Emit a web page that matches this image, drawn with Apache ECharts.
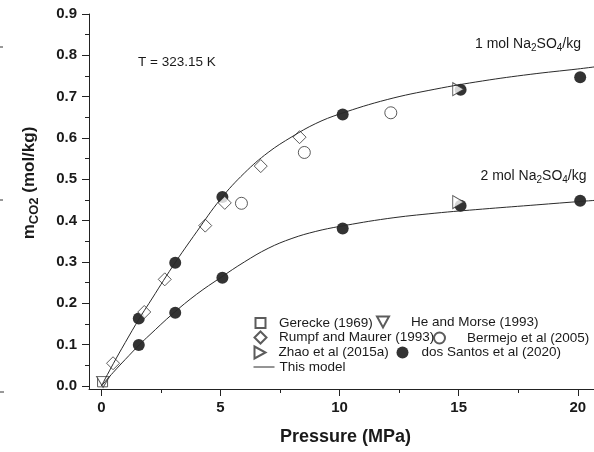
<!DOCTYPE html>
<html>
<head>
<meta charset="utf-8">
<script src="https://cdn.jsdelivr.net/npm/echarts@6/dist/echarts.min.js"></script>
<style>
  html, body { margin: 0; padding: 0; background: #fff; }
  #chart { width: 594px; height: 452px; }
</style>
</head>
<body>
<div id="chart"></div>
<script>
// ---- axis ticks ----
const xMajorTicks = [0, 5, 10, 15, 20];
const xMinorTicks = [2.5, 7.5, 12.5, 17.5];
const yMajorTicks = [0, 0.1, 0.2, 0.3, 0.4, 0.5, 0.6, 0.7, 0.8, 0.9];
const yMinorTicks = [0.05, 0.15, 0.25, 0.35, 0.45, 0.55, 0.65, 0.75, 0.85];

// ---- experimental CO2 solubility, pressure (MPa) / molality (mol/kg) ----
const gereckeP = [0.05];
const gereckeM = [0.010];

const heMorseP = [0.07];
const heMorseM = [0.010];

const rumpfP = [0.49, 1.80, 2.66, 4.36, 5.18, 6.69, 8.32];
const rumpfM = [0.055, 0.179, 0.258, 0.388, 0.443, 0.532, 0.602];

const bermejoP = [5.88, 8.52, 12.15];
const bermejoM = [0.442, 0.565, 0.661];

const zhaoP = [14.98, 14.98];
const zhaoM = [0.718, 0.445];

const santosP = [1.57, 3.10, 5.08, 10.13, 15.08, 20.10, 1.57, 3.10, 5.08, 10.13, 15.08, 20.10];
const santosM = [0.163, 0.298, 0.457, 0.657, 0.717, 0.747, 0.099, 0.177, 0.262, 0.381, 0.436, 0.448];

// ---- model curves ----
const modelP = [0, 0.5, 1, 1.6, 2, 3, 4, 5, 6, 7, 8, 9, 10, 12, 14, 16, 18, 20, 20.7];
const model1M = [0, 0.054, 0.105, 0.164, 0.200, 0.290, 0.373, 0.452, 0.515, 0.565, 0.603, 0.635, 0.658, 0.693, 0.718, 0.738, 0.754, 0.767, 0.772];
const model2M = [0, 0.033, 0.064, 0.100, 0.122, 0.175, 0.222, 0.262, 0.300, 0.333, 0.357, 0.374, 0.386, 0.405, 0.418, 0.428, 0.437, 0.446, 0.449];

const FONT = '"Liberation Sans", Arial, Helvetica, sans-serif';
const INK = '#1a1a1a';
const pairs = (xs, ys) => xs.map((x, i) => [x, ys[i]]);

const hollow = { color: '#fff', borderColor: '#333', borderWidth: 1 };
const modelLine = { color: '#2a2a2a', width: 1 };

const series = [
  { name: 'dos Santos et al (2020)', type: 'scatter', z: 2, symbol: 'circle', symbolSize: 12,
    itemStyle: { color: '#000' }, data: pairs(santosP, santosM) },
  { name: 'Gerecke (1969)', type: 'scatter', z: 3, symbol: 'rect', symbolSize: 10,
    itemStyle: hollow, data: pairs(gereckeP, gereckeM) },
  { name: 'He and Morse (1993)', type: 'scatter', z: 3, symbol: 'triangle', symbolRotate: 180, symbolSize: [13, 11],
    itemStyle: hollow, data: pairs(heMorseP, heMorseM) },
  { name: 'Rumpf and Maurer (1993)', type: 'scatter', z: 3, symbol: 'diamond', symbolSize: 13,
    itemStyle: hollow, data: pairs(rumpfP, rumpfM) },
  { name: 'Bermejo et al (2005)', type: 'scatter', z: 3, symbol: 'circle', symbolSize: 12,
    itemStyle: hollow, data: pairs(bermejoP, bermejoM) },
  { name: 'Zhao et al (2015a)', type: 'scatter', z: 3, symbol: 'triangle', symbolRotate: -90, symbolSize: [13, 11],
    itemStyle: hollow, data: pairs(zhaoP, zhaoM) },
  { name: 'This model', type: 'line', z: 4, symbol: 'none', smooth: 0.4,
    lineStyle: modelLine, itemStyle: { color: '#2a2a2a' }, data: pairs(modelP, model1M) },
  { name: 'This model', type: 'line', z: 4, symbol: 'none', smooth: 0.4,
    lineStyle: modelLine, itemStyle: { color: '#2a2a2a' }, data: pairs(modelP, model2M) }
];

// legend entries: icon centre, row centre, text start, icon size, icon shape
const legendItems = [
  { name: 'Gerecke (1969)',          cx: 259.5, cy: 321,   tx: 278,   size: 10, icon: 'rect' },
  { name: 'He and Morse (1993)',     cx: 382,   cy: 321,   tx: 410,   size: 12, icon: 'path://M0,0L12,0L6,11Z' },
  { name: 'Rumpf and Maurer (1993)', cx: 259.5, cy: 336.5, tx: 278,   size: 12, icon: 'diamond' },
  { name: 'Bermejo et al (2005)',    cx: 438.5, cy: 336.5, tx: 466,   size: 11, icon: 'circle' },
  { name: 'Zhao et al (2015a)',      cx: 259.5, cy: 351.5, tx: 278,   size: 12, icon: 'path://M0,0L11,6L0,12Z' },
  { name: 'dos Santos et al (2020)', cx: 402.5, cy: 351.5, tx: 421.5, size: 12, icon: 'circle' }
];
const legends = legendItems.map(it => ({
  data: [{ name: it.name, icon: it.icon }],
  left: it.cx - it.size / 2,
  top: it.cy - it.size / 2,
  itemWidth: it.size,
  itemHeight: it.size,
  padding: 0,
  selectedMode: false,
  textStyle: { fontFamily: FONT, fontSize: 13.5, color: INK,
    padding: [0, 0, 0, Math.max(0, it.tx - (it.cx + it.size / 2 + 5))] }
}));
legends.push({
  data: [{ name: 'This model', itemStyle: { color: 'rgba(0,0,0,0)', borderWidth: 0, opacity: 0 } }],
  left: 253, top: 366 - 6, itemWidth: 21, itemHeight: 12, padding: 0,
  selectedMode: false,
  lineStyle: { color: '#2a2a2a', width: 1 },
  textStyle: { fontFamily: FONT, fontSize: 13.5, color: INK }
});

const axisLine = { onZero: false, lineStyle: { color: '#222', width: 1 } };
const hiddenLine = { show: false, onZero: false };
const tickLine = { color: '#222', width: 1 };
const tickLabel = { fontFamily: FONT, fontSize: 15, fontWeight: 'bold', color: INK };

// rich-text pieces; subscripts are pushed down with top padding
const txt = (size, bold) => ({ fontFamily: FONT, fontSize: size, fontWeight: bold ? 'bold' : 'normal',
  lineHeight: size, verticalAlign: 'top', color: INK });
const subTxt = (size, bold, drop) => Object.assign(txt(size, bold), { padding: [drop, 0, 0, 0] });

const option = {
  animation: false,
  backgroundColor: '#fff',
  grid: { left: 89, right: 0, top: 14, bottom: 63, containLabel: false, outerBoundsMode: 'none' },
  xAxis: [
    { type: 'value', position: 'bottom', min: -0.52, max: 20.68,
      axisLine: axisLine, splitLine: { show: false },
      axisTick: { customValues: xMajorTicks, length: 7, lineStyle: tickLine },
      axisLabel: Object.assign({ customValues: xMajorTicks, margin: 11 }, tickLabel) },
    { type: 'value', position: 'bottom', min: -0.52, max: 20.68,
      axisLine: hiddenLine, splitLine: { show: false }, axisLabel: { show: false },
      axisTick: { customValues: xMinorTicks, length: 4, lineStyle: tickLine } }
  ],
  yAxis: [
    { type: 'value', position: 'left', min: -0.0073, max: 0.9,
      axisLine: axisLine, splitLine: { show: false },
      axisTick: { customValues: yMajorTicks, length: 7, lineStyle: tickLine },
      axisLabel: Object.assign({ customValues: yMajorTicks, margin: 12,
        formatter: v => v.toFixed(1) }, tickLabel) },
    { type: 'value', position: 'left', min: -0.0073, max: 0.9,
      axisLine: hiddenLine, splitLine: { show: false }, axisLabel: { show: false },
      axisTick: { customValues: yMinorTicks, length: 4, lineStyle: tickLine } }
  ],
  legend: legends,
  series: series,
  graphic: [
    { type: 'text', x: 345.5, y: 437.5,
      style: { text: 'Pressure (MPa)', fontFamily: FONT, fontSize: 18, fontWeight: 'bold', fill: INK,
        textAlign: 'center', textVerticalAlign: 'middle', align: 'center', verticalAlign: 'middle' } },
    { type: 'text', x: 20.5, y: 183, rotation: Math.PI / 2,
      style: { text: '{m|m}{s|CO2}{m| (mol/kg)}', fill: INK,
        textAlign: 'center', textVerticalAlign: 'top', align: 'center', verticalAlign: 'top',
        rich: { m: txt(17, true), s: subTxt(13, true, 7) } } },
    { type: 'text', x: 138, y: 62,
      style: { text: 'T = 323.15 K', fontFamily: FONT, fontSize: 13.5, fill: INK,
        textAlign: 'left', textVerticalAlign: 'middle', align: 'left', verticalAlign: 'middle' } },
    { type: 'text', x: 475, y: 37,
      style: { text: '{a|1 mol Na}{b|2}{a|SO}{b|4}{a|/kg}', fill: INK,
        textAlign: 'left', textVerticalAlign: 'top', align: 'left', verticalAlign: 'top',
        rich: { a: txt(14, false), b: subTxt(10, false, 6.5) } } },
    { type: 'text', x: 480.5, y: 169,
      style: { text: '{a|2 mol Na}{b|2}{a|SO}{b|4}{a|/kg}', fill: INK,
        textAlign: 'left', textVerticalAlign: 'top', align: 'left', verticalAlign: 'top',
        rich: { a: txt(14, false), b: subTxt(10, false, 6.5) } } },
    // edge marks of the neighbouring panel
    { type: 'line', shape: { x1: 0, y1: 47, x2: 3, y2: 47 }, style: { stroke: '#333', lineWidth: 1 } },
    { type: 'line', shape: { x1: 0, y1: 200, x2: 3, y2: 200 }, style: { stroke: '#333', lineWidth: 1 } },
    { type: 'line', shape: { x1: 0, y1: 392, x2: 4, y2: 392 }, style: { stroke: '#333', lineWidth: 1 } }
  ]
};

const chart = echarts.init(document.getElementById('chart'), null, { renderer: 'canvas' });
chart.setOption(option);
</script>
</body>
</html>
